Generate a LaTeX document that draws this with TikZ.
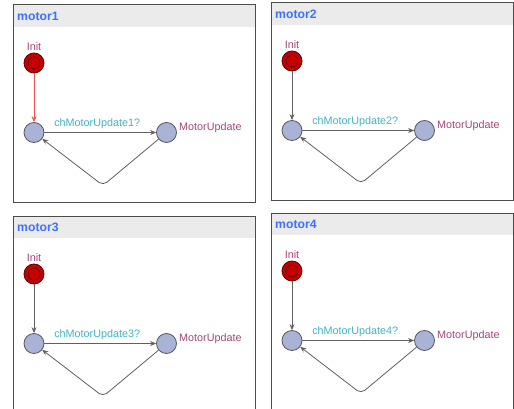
\documentclass[tikz,border=0pt]{standalone}
\usepackage{fontspec}
\setmainfont{Liberation Sans}
\usetikzlibrary{arrows.meta}
\definecolor{titleblue}{HTML}{3F6FFF}
\definecolor{locname}{HTML}{A3467A}
\definecolor{syncteal}{HTML}{3FB3C3}
\definecolor{locfill}{HTML}{A9B3D6}
\definecolor{initred}{HTML}{C80000}
\definecolor{initdark}{HTML}{5A0000}
\definecolor{headgrey}{HTML}{EBEBEB}
\definecolor{edgegrey}{HTML}{606060}
\definecolor{edgered}{HTML}{F05050}
\begin{document}
\begin{tikzpicture}[x=1pt,y=-1pt,
        panel/.style={draw=black!70,line width=1pt},
        loc/.style={circle,draw=black!65,fill=locfill,minimum size=20pt,inner sep=0pt,line width=0.8pt},
        initloc/.style={loc,draw=initdark,fill=initred},
        edge/.style={draw=edgegrey,line width=0.8pt,-{Stealth[length=6pt,width=5pt,inset=2pt]}},
        lbl/.style={font=\fontsize{10.8}{13}\selectfont,inner sep=1pt}]
    \useasboundingbox (0,0) rectangle (514,409);
    \begin{scope}
        \clip (0,0) rectangle (514,409);
        \foreach \n/\px/\py/\ec in {1/13/5/edgered, 2/271/3/edgegrey, 3/13/216/edgegrey, 4/271/213/edgegrey}
            {
                \begin{scope}[shift={(\px,\py)}]
                    \fill[headgrey] (0,0) rectangle (242,22);
                    \draw[panel] (0,0) rectangle (242,197);
                    \node (title\n) [anchor=west,text=titleblue,font=\fontsize{12.2}{14}\bfseries\selectfont,inner sep=0pt] at (4,11.5) {motor\n};

                    \node (init\n) at (21,58) [initloc]{};
                    \draw[initdark,line width=0.7pt] (init\n.center) circle[radius=6];
                    \node (wait\n) at (21,127.5) [loc]{};
                    \node (upd\n) at (153.5,127.5) [loc]{};
                    \coordinate (nail\n) at (90,180.5);

                    \node (lbinit\n) at (21,42) [lbl,text=locname]{Init};
                    \node (lbupd\n) at (165,123) [lbl,anchor=west,text=locname]{MotorUpdate};

                    \draw[edge,draw=\ec] (init\n) -- (wait\n);
                    \draw[edge] (wait\n) -- (upd\n) node (sync\n) [lbl,midway,above=2.5pt,xshift=-3pt,text=syncteal]{chMotorUpdate\n?};
                    \draw[edge,rounded corners=5pt] (upd\n) -- (nail\n) -- (wait\n);
                \end{scope}
            }
    \end{scope}
\end{tikzpicture}
\end{document}
